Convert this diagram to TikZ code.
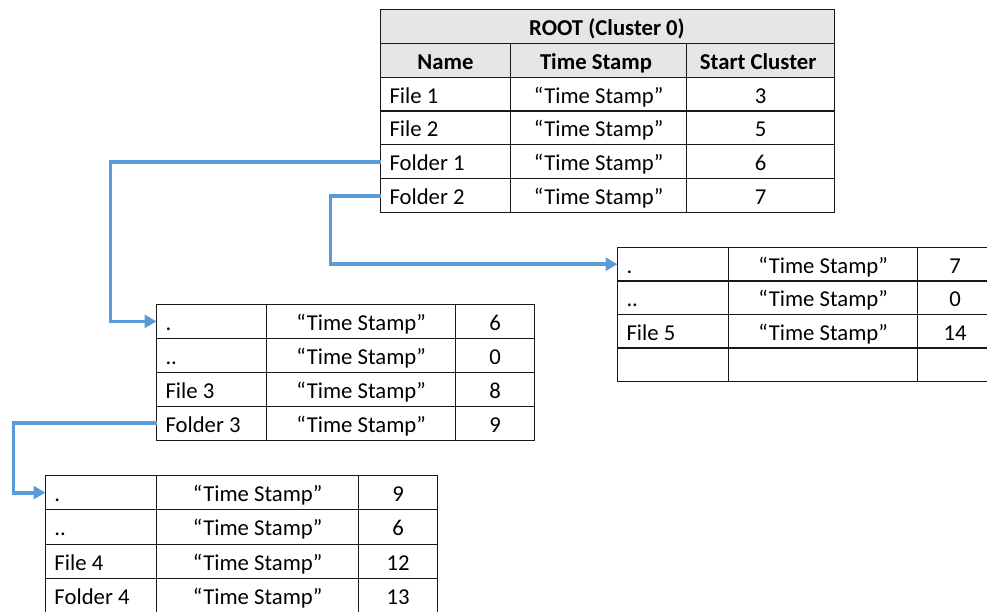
\documentclass[tikz,border=0pt]{standalone}
\usepackage{fontspec}
\setmainfont{Carlito}
\usetikzlibrary{matrix, arrows.meta, positioning}

\definecolor{linkblue}{HTML}{5B9BD5}
\definecolor{headgray}{HTML}{E7E6E6}

\begin{document}
\begin{tikzpicture}[
          x=1pt, y=-1pt,
          cellfont/.style={font=\fontsize{22.7}{27}\selectfont},
          tbl/.style={matrix of nodes, nodes in empty cells, anchor=north west, inner sep=0pt, outer sep=0pt,
            row sep=-0.9pt, column sep=-0.9pt,
            nodes={draw=black!90, line width=1pt, minimum height=33.8pt, inner sep=0pt, outer sep=0pt,
              text height=19pt, text depth=1pt, anchor=center, cellfont}},
          colw/.style n args={3}{column 1/.style={nodes={inner xsep=9pt, text width=#1, align=flush left}},
            column 2/.style={nodes={minimum width=#2}}, column 3/.style={nodes={minimum width=#3}}},
          head/.style={fill=headgray, font=\fontsize{22.7}{27}\selectfont\bfseries},
          link/.style={draw=linkblue, line width=3.8pt, -{Triangle[length=12pt, width=13pt]}}
        ]
          \useasboundingbox (0,0) rectangle (987,612);

          \node[draw=black!90, line width=1pt, head, minimum width=454pt, minimum height=33.8pt,
            text height=19pt, text depth=1pt, anchor=north west, outer sep=0pt] (roottitle) at (380,10) {ROOT (Cluster 0)};
          \matrix[tbl, colw={112pt}{176pt}{148pt}, row 1/.style={nodes={head, align=center}}] (root) at ([yshift=1pt]roottitle.south west) {
            Name & Time Stamp & Start Cluster \\
            File 1 & “Time Stamp” & 3 \\
            File 2 & “Time Stamp” & 5 \\
            Folder 1 & “Time Stamp” & 6 \\
            Folder 2 & “Time Stamp” & 7 \\
          };

          \matrix[tbl, colw={92pt}{189pt}{79pt}] (fold1) at (156,304) {
            . & “Time Stamp” & 6 \\
            .. & “Time Stamp” & 0 \\
            File 3 & “Time Stamp” & 8 \\
            Folder 3 & “Time Stamp” & 9 \\
          };

          \matrix[tbl, colw={93pt}{189pt}{75pt}, nodes={minimum height=33.4pt}] (fold2) at (617,247) {
            . & “Time Stamp” & 7 \\
            .. & “Time Stamp” & 0 \\
            File 5 & “Time Stamp” & 14 \\
            & & \\
          };

          \matrix[tbl, colw={93pt}{202pt}{79pt}, nodes={minimum height=34.2pt}] (fold3) at (45,475) {
            . & “Time Stamp” & 9 \\
            .. & “Time Stamp” & 6 \\
            File 4 & “Time Stamp” & 12 \\
            Folder 4 & “Time Stamp” & 13 \\
          };

          \draw[link] (root-4-1.west) -| ([xshift=-46pt]fold1-1-1.west) -- (fold1-1-1.west);
          \draw[link] (root-5-1.west) -| ([xshift=-287pt]fold2-1-1.west) -- (fold2-1-1.west);
          \draw[link] (fold1-4-1.west) -| ([xshift=-32pt]fold3-1-1.west) -- (fold3-1-1.west);
        \end{tikzpicture}
\end{document}
